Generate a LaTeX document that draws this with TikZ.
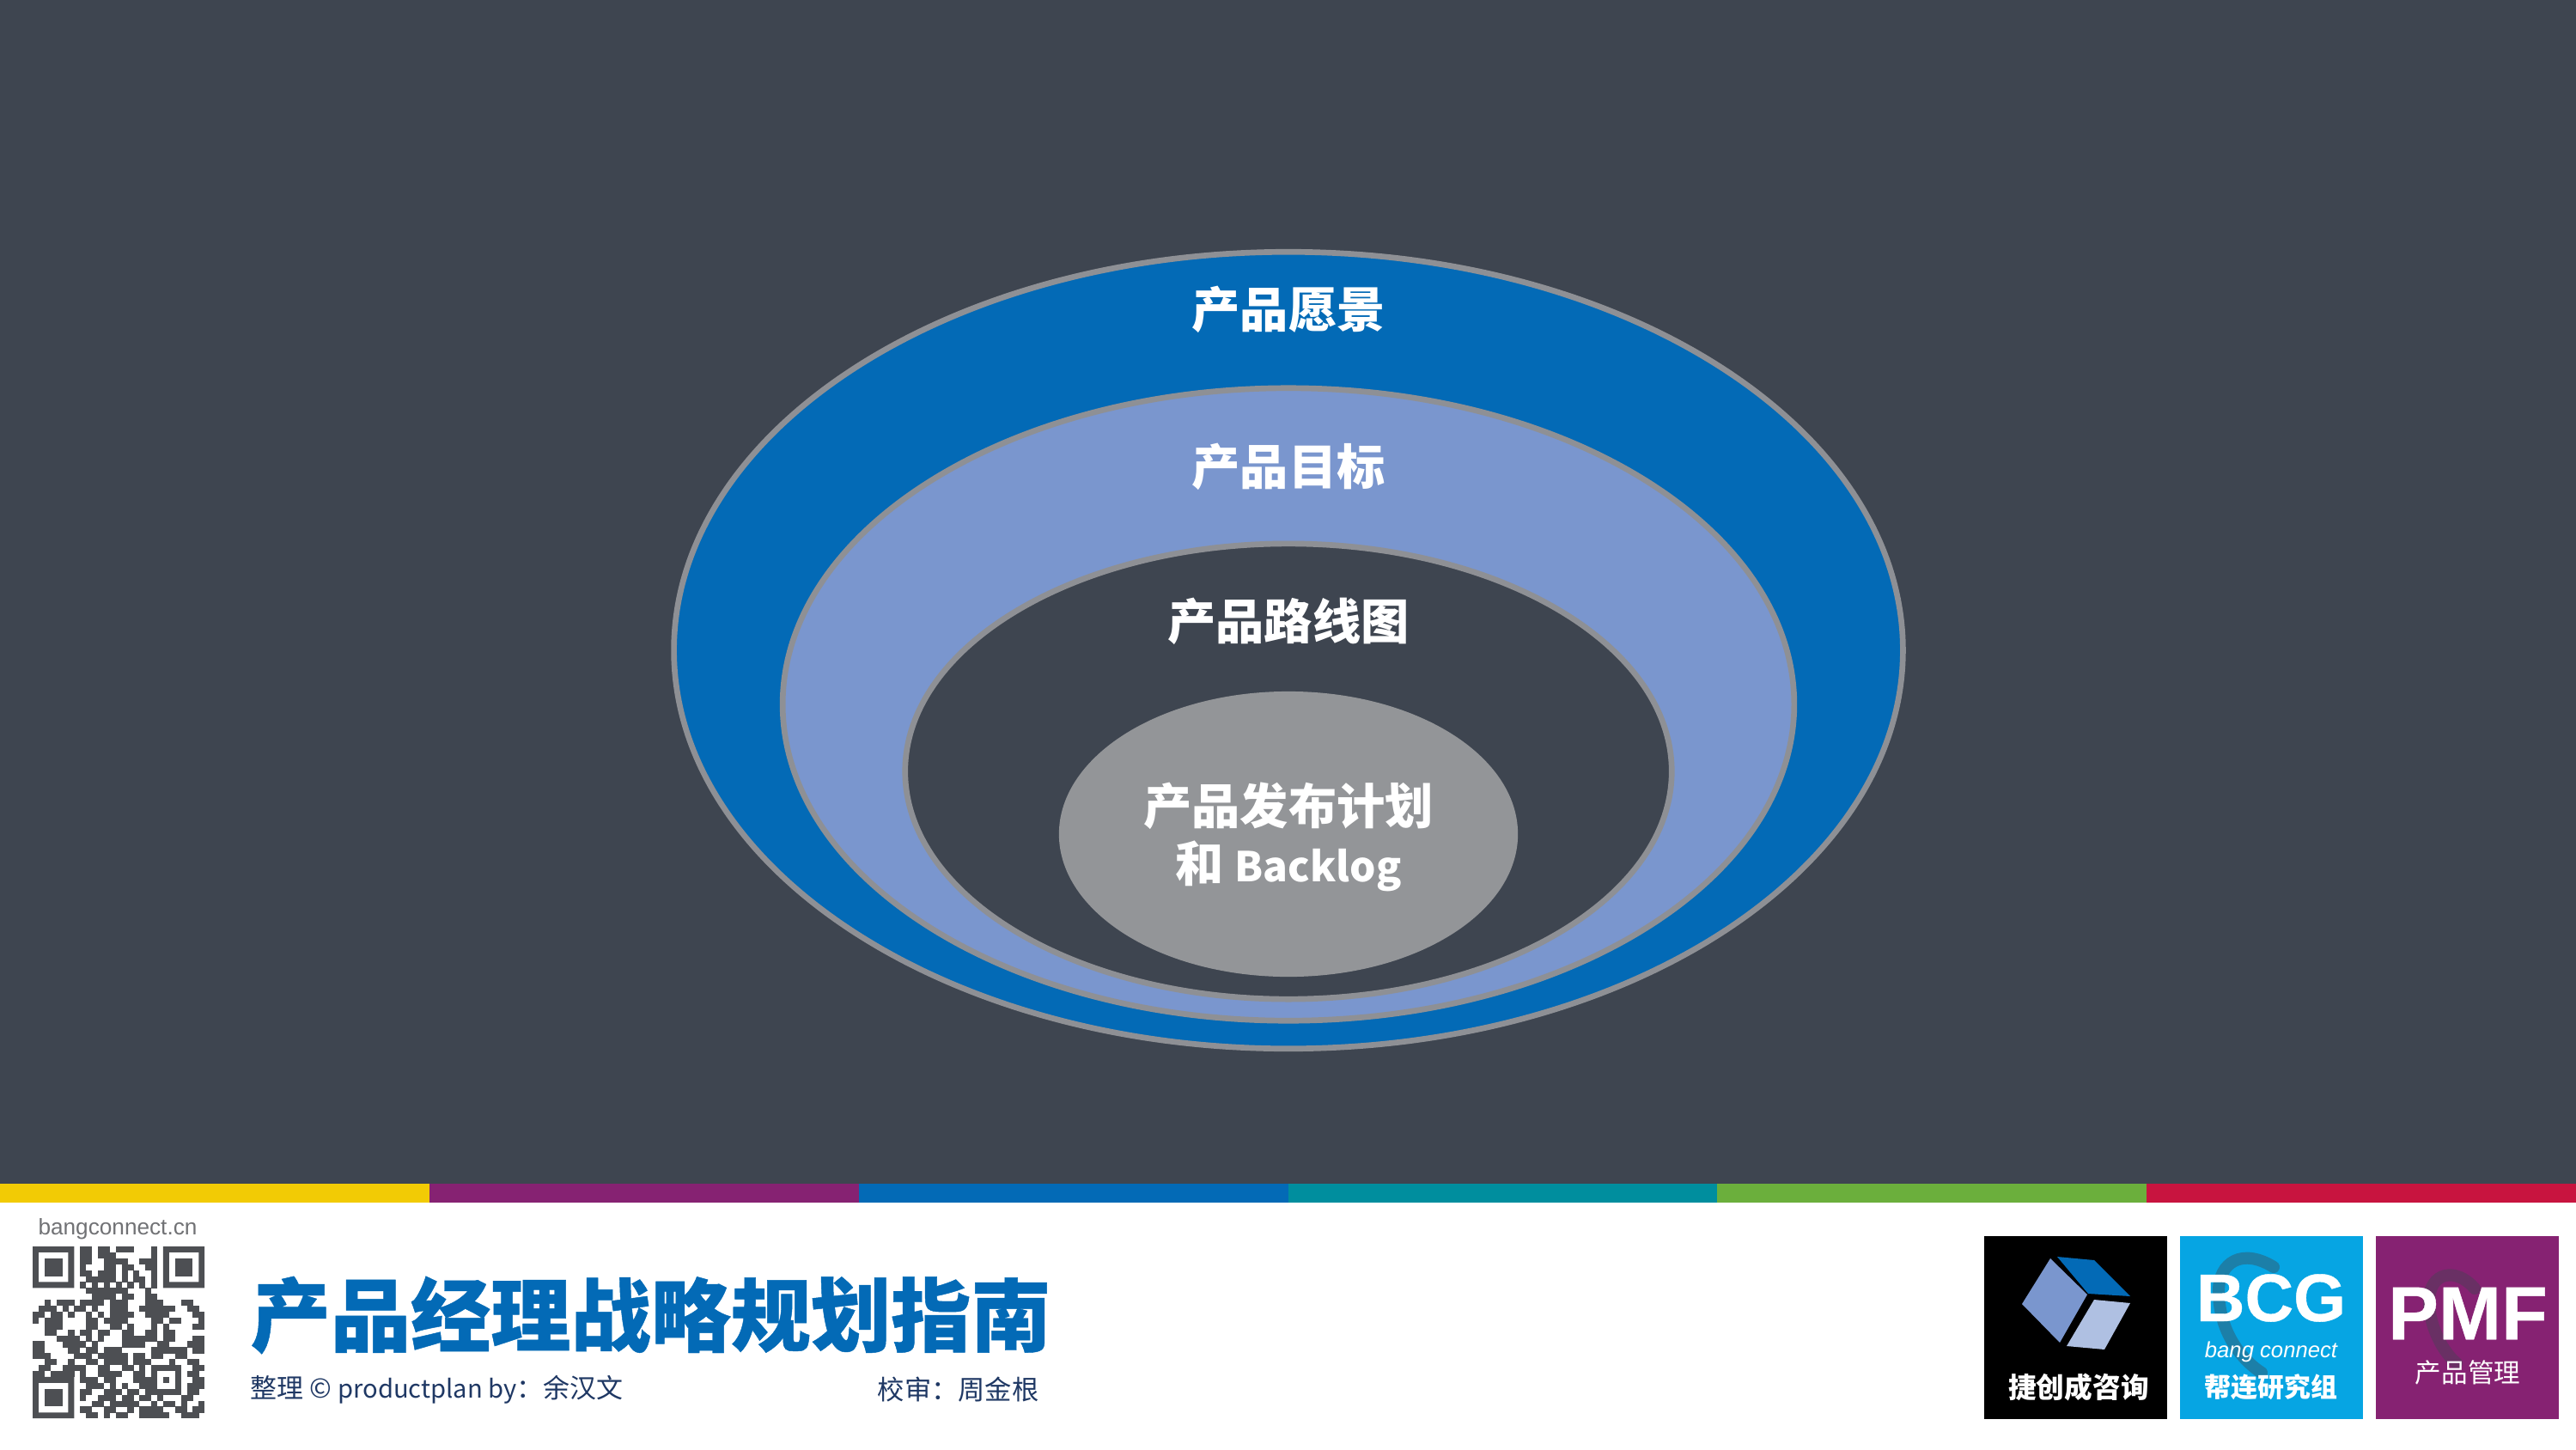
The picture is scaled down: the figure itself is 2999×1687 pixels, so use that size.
\documentclass[tikz,border=0pt]{standalone}
\usepackage{fontspec}
\usetikzlibrary{shapes.geometric}
\newfontfamily\cjk{Noto Sans CJK SC}
\newfontfamily\cjkheavy[BoldFeatures={FakeBold=0.5}]{Noto Sans CJK SC}
\newfontfamily\logoheavy[BoldFeatures={FakeBold=0.5}]{Liberation Sans}
\setmainfont{Liberation Sans}
\definecolor{slatebg}{HTML}{3E4550}
\definecolor{ringblue}{HTML}{036AB6}
\definecolor{ringlight}{HTML}{7A96CE}
\definecolor{ringline}{HTML}{8E9095}
\definecolor{coregrey}{HTML}{939598}
\definecolor{qrgrey}{HTML}{4D4F53}
\definecolor{creditblue}{HTML}{1F3864}
\definecolor{barpurple}{HTML}{862272}
\definecolor{skyblue}{HTML}{06A5E3}
\tikzset{
  ring/.style={ellipse,draw=ringline,line width=1.9pt,inner sep=0pt},
  ringlabel/.style={text=white,font=\cjk\bfseries\fontsize{16}{19}\selectfont,align=center,inner sep=0pt},
  logobox/.style={minimum width=2.13cm,minimum height=2.13cm,inner sep=0pt},
  logotext/.style={text=white,inner sep=0pt},
  swoosh/.style={line width=4pt,line cap=round}
}
\begin{document}
\begin{tikzpicture}[x=0.01cm,y=-0.01cm]
\useasboundingbox (0,0) rectangle (2999,1687);
\fill[white] (0,0) rectangle (2999,1687);
\fill[slatebg] (0,0) rectangle (2999,1378);

% colour bar
\foreach \barcol [count=\i from 0] in {F2CB05,862272,036AB6,008E9E,6BAF3C,C8143F}{
  \definecolor{barnow}{HTML}{\barcol}
  \fill[barnow] (\i*499.83,1378) rectangle (\i*499.83+499.83,1400);
}

% rings
\node (vision) [ring,fill=ringblue,minimum width=14.3cm,minimum height=9.27cm] at (1500,757) {};
\node (goals) [ring,fill=ringlight,minimum width=11.77cm,minimum height=7.36cm] at (1500,820) {};
\node (roadmap) [ring,fill=slatebg,minimum width=8.92cm,minimum height=5.3cm] at (1500,898) {};
\node (release) [ellipse,fill=coregrey,inner sep=0pt,minimum width=5.34cm,minimum height=3.32cm] at (1500,971) {};

% ring labels
\node (visiontext) [ringlabel] at (1500,360) {产品愿景};
\node (goalstext) [ringlabel] at (1500,543) {产品目标};
\node (roadmaptext) [ringlabel] at (1500,723) {产品路线图};
\node (releasetext) [ringlabel] at (1500,974) {产品发布计划\\和 {\fontsize{13.6}{19}\selectfont Backlog}};

% footer texts
\node (site) [text=qrgrey!80,inner sep=0pt,font=\fontsize{7.45}{9}\selectfont] at (137,1431) {bangconnect.cn};
\node (title) [anchor=west,text=ringblue,inner sep=0pt,font=\cjkheavy\bfseries\fontsize{26.5}{30}\selectfont] at (291,1531) {产品经理战略规划指南};
\node (credit) [anchor=west,text=creditblue,inner sep=0pt,font=\cjk\fontsize{8.8}{10}\selectfont] at (291,1618) {整理 © {\fontsize{8.3}{10}\selectfont productplan by}：余汉文};
\node (review) [anchor=west,text=creditblue,inner sep=0pt,font=\cjk\fontsize{8.9}{10}\selectfont] at (1021,1618) {校审：周金根};

% qr code
\begin{scope}[shift={(38,1451)},x=0.069cm,y=-0.069cm]
\foreach \fx/\fy in {0/0,22/0,0/22}{
  \fill[qrgrey,even odd rule] (\fx,\fy) rectangle ++(7,7) (\fx+1,\fy+1) rectangle ++(5,5);
  \fill[qrgrey] (\fx+2,\fy+2) rectangle ++(3,3);
}
\foreach \cells [count=\r from 0] in {
  {8,9,11,12,14,15,16,20},
  {8,9,11,12,13,20},
  {8,9,12,13,14,15,18,19,20},
  {8,12,13,15,16,19,20},
  {8,9,11,12,13,15,17,20},
  {9,10,11,12,13,15,17,18,20},
  {8,10,12,14,16,18,20},
  {9,10,11,12,13,14,15,19},
  {10,11,12,13,15,16,19,20},
  {2,4,5,6,8,9,10,11,13,14,15,19,20,21,25,26},
  {1,2,3,5,7,8,10,13,14,15,18,19,20,21,22,23,26,27},
  {0,1,3,4,6,9,11,13,14,15,16,19,20,21,22,27,28},
  {0,2,3,4,9,10,12,13,14,15,20,21,23,24,28},
  {2,3,4,9,10,13,14,16,20,22,27,28},
  {2,3,6,8,9,11,12,15,16,19,20,22,23},
  {4,5,6,7,9,11,15,16,17,18,19,20,22,23,27,28},
  {0,1,5,6,7,8,10,15,16,17,18,21,22,26,27,28},
  {0,1,6,7,9,10,12,13,14,20,21,22,23,24,25,27,28},
  {0,1,2,7,8,9,11,12,13,14,15,17,18,20,21,24,25},
  {2,3,6,9,10,12,13,14,15,17,18,19,23,26,27},
  {1,2,5,6,7,8,11,12,15,16,18,20,21,22,23,24,27,28},
  {0,1,3,4,5,6,8,11,12,13,14,17,18,20,24,26,27},
  {8,9,10,12,13,17,18,19,20,22,24,27,28},
  {9,10,11,13,15,18,19,20,24,26,27,28},
  {8,9,12,13,14,16,17,19,20,21,22,23,24,26,27},
  {8,11,12,13,15,16,18,19,21,25,26},
  {10,11,13,14,15,16,17,20,22,23,25,28},
  {8,9,12,13,16,18,19,20,21,24,25,27,28},
  {9,10,12,14,15,18,19,20,21,22,25,26,27}}{
  \foreach \c in \cells
    \fill[qrgrey] (\c,\r) rectangle ++(1.03,1.03);
}
\end{scope}

% logo boxes
\node (jcbox) [logobox,fill=black] at (2416.5,1545.5) {};
\node (bcgbox) [logobox,fill=skyblue] at (2644.5,1545.5) {};
\node (pmfbox) [logobox,fill=barpurple] at (2872.5,1545.5) {};

% cube
\fill[ringblue] (2395,1463) -- (2438,1467) -- (2480,1509) -- (2431,1506) -- cycle;
\fill[ringlight] (2387,1465) -- (2430,1507) -- (2398,1563) -- (2354,1518) -- cycle;
\fill[ringlight!60!white] (2438,1513) -- (2480,1517) -- (2450,1571) -- (2406,1567) -- cycle;
\node (jctext) [logotext,font=\cjk\bfseries\fontsize{9.3}{11}\selectfont] at (2420,1615) {捷创成咨询};

% bcg
\draw[swoosh,color=skyblue!60!slatebg] (2647,1475) .. controls (2610,1452) and (2583,1470) .. (2583,1503) .. controls (2583,1545) and (2605,1580) .. (2633,1598);
\node (bcgtext) [logotext,font=\logoheavy\bfseries\fontsize{22.3}{26}\selectfont] at (2644,1511) {BCG};
\node (bangtext) [logotext,font=\itshape\fontsize{7.3}{9}\selectfont] at (2644,1574) {bang connect};
\node (bcgname) [logotext,font=\cjk\bfseries\fontsize{8.8}{11}\selectfont] at (2644,1615) {帮连研究组};

% pmf
\draw[swoosh,color=barpurple!60!slatebg] (2881,1500) .. controls (2860,1475) and (2828,1480) .. (2828,1515) .. controls (2828,1545) and (2845,1575) .. (2860,1587);
\node (pmftext) [logotext,font=\logoheavy\bfseries\fontsize{25}{28}\selectfont] at (2873,1529) {PMF};
\node (pmfname) [logotext,font=\cjk\fontsize{8.7}{11}\selectfont] at (2873,1598) {产品管理};
\end{tikzpicture}
\end{document}
